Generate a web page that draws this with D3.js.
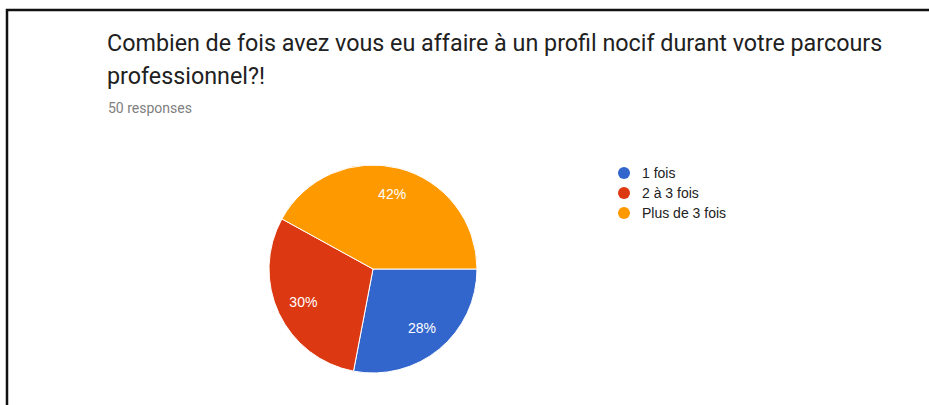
<!DOCTYPE html>
<html>
<head>
<meta charset="utf-8">
<script src="https://cdn.jsdelivr.net/npm/d3@7/dist/d3.min.js"></script>
<style>
  html, body { margin: 0; padding: 0; background: #fff; }
  svg { display: block; }
</style>
</head>
<body>
<svg id="chart" width="929" height="405"></svg>
<script>
// Survey answers
const categories = ["1 fois", "2 à 3 fois", "Plus de 3 fois"];
const counts = [14, 15, 21];
const colors = ["#3366cc", "#dc3912", "#ff9900"];
const titleLines = [
  "Combien de fois avez vous eu affaire à un profil nocif durant votre parcours",
  "professionnel?!"
];
const subtitle = "50 responses";

const svg = d3.select("#chart");
const W = 929, H = 405;

// Frame (top and left edges)
svg.append("path")
  .attr("d", `M7,${H} L7,10 L${W},10`)
  .attr("fill", "none")
  .attr("stroke", "#111")
  .attr("stroke-width", 2.5);

// Title
svg.append("g")
  .selectAll("text")
  .data(titleLines)
  .join("text")
  .attr("x", 107)
  .attr("y", (d, i) => 51 + i * 33)
  .attr("font-family", "Roboto, 'Noto Sans', sans-serif")
  .attr("font-size", 23.3)
  .attr("fill", "#212121")
  .text(d => d);

svg.append("text")
  .attr("x", 108)
  .attr("y", 113)
  .attr("font-family", "Roboto, Arial, sans-serif")
  .attr("font-size", 14)
  .attr("fill", "#808080")
  .text(subtitle);

// Pie
const cx = 373, cy = 269, r = 104;
const total = d3.sum(counts);
const pie = d3.pie().sort(null).startAngle(Math.PI / 2).endAngle(Math.PI / 2 + 2 * Math.PI);
const arcs = pie(counts);
const arc = d3.arc().innerRadius(0).outerRadius(r);
const labelArc = d3.arc().innerRadius(r * 0.74).outerRadius(r * 0.74);

const g = svg.append("g").attr("transform", `translate(${cx},${cy})`);
g.selectAll("path")
  .data(arcs)
  .join("path")
  .attr("d", arc)
  .attr("fill", (d, i) => colors[i])
  .attr("stroke", "#fff")
  .attr("stroke-width", 1);

g.selectAll("text")
  .data(arcs)
  .join("text")
  .attr("transform", d => `translate(${labelArc.centroid(d)})`)
  .attr("text-anchor", "middle")
  .attr("dy", "0.35em")
  .attr("font-family", "'Liberation Sans', Arial, sans-serif")
  .attr("font-size", 14)
  .attr("fill", "#fff")
  .text(d => Math.round(d.data / total * 100) + "%");

// Legend
const legend = svg.append("g").attr("transform", "translate(624,173)");
const item = legend.selectAll("g")
  .data(categories)
  .join("g")
  .attr("transform", (d, i) => `translate(0,${i * 20})`);
item.append("circle")
  .attr("r", 6)
  .attr("fill", (d, i) => colors[i]);
item.append("text")
  .attr("x", 18)
  .attr("dy", "0.35em")
  .attr("font-family", "'Liberation Sans', Arial, sans-serif")
  .attr("font-size", 14)
  .attr("fill", "#222")
  .text(d => d);
</script>
</body>
</html>
